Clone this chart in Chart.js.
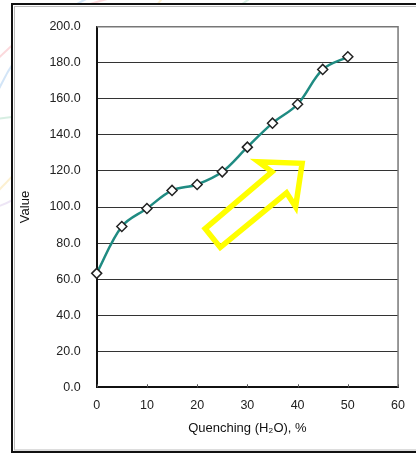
<!DOCTYPE html>
<html>
<head>
<meta charset="utf-8">
<script src="https://cdn.jsdelivr.net/npm/chart.js@4/dist/chart.umd.min.js"></script>
<style>
  html, body { margin: 0; padding: 0; background: #ffffff; }
  #wrap { width: 416px; height: 455px; }
</style>
</head>
<body>
<div id="wrap"><canvas id="chart" width="416" height="455"></canvas></div>
<script>
// Quenching water content (%) and measured value
const quenching = [0, 5, 10, 15, 20, 25, 30, 35, 40, 45, 50];
const values = [63.2, 89.2, 99.2, 109.2, 112.5, 119.5, 133.2, 146.5, 157.0, 176.3, 183.3];

// Axis ranges and tick steps
const xTicks = [0, 10, 20, 30, 40, 50, 60];
const yTicks = [0, 20, 40, 60, 80, 100, 120, 140, 160, 180, 200];

// Outline of the trend arrow, in data units (x: %, y: value)
const arrowX = [21.6, 34.9, 32.2, 40.9, 39.6, 37.8, 24.6];
const arrowY = [88.0, 119.5, 125.1, 124.2, 100.1, 107.9, 77.6];

const TICK_FONT = { family: "'Liberation Sans', Arial, sans-serif", size: 12.5 };
const TITLE_FONT = { family: "'Liberation Sans', Arial, sans-serif", size: 13, weight: 'normal' };

// Faint decorative arcs behind the framed panel, then the white panel itself
const panelPlugin = {
  id: 'panel',
  beforeDraw(chart) {
    const ctx = chart.ctx;
    ctx.save();
    ctx.fillStyle = '#ffffff';
    ctx.fillRect(0, 0, chart.width, chart.height);
    ctx.lineWidth = 2;
    const arcs = [
      ['rgba(240,120,130,0.28)', [-5, 62, 40, 12, 125, -5]],
      ['rgba(110,170,230,0.3)', [-5, 98, 25, 25, 95, -5]],
      ['rgba(120,200,160,0.3)', [-5, 119, 90, 112, 255, -5]],
      ['rgba(245,200,90,0.28)', [-5, 194, 40, 150, 165, -5]],
      ['rgba(190,160,220,0.28)', [-5, 207, 20, 202, 60, 160]]
    ];
    for (const [c, p] of arcs) {
      ctx.strokeStyle = c;
      ctx.beginPath();
      ctx.moveTo(p[0], p[1]);
      ctx.quadraticCurveTo(p[2], p[3], p[4], p[5]);
      ctx.stroke();
    }
    ctx.fillStyle = '#ffffff';
    ctx.fillRect(12, 4, chart.width, 448);
    ctx.strokeStyle = 'rgba(120,120,120,0.5)';
    ctx.lineWidth = 1;
    ctx.strokeRect(14.5, 6.5, chart.width, 443.5);
    ctx.strokeStyle = '#111111';
    ctx.lineWidth = 2;
    ctx.strokeRect(12, 4, chart.width + 10, 448);
    ctx.restore();
  },
  beforeDatasetsDraw(chart) {
    // Plot frame and short inward tick marks on the x axis
    const { ctx, chartArea: a, scales } = chart;
    ctx.save();
    ctx.strokeStyle = '#777777';
    ctx.lineWidth = 1.5;
    ctx.beginPath();
    ctx.moveTo(a.left, a.top);
    ctx.lineTo(a.right, a.top);
    ctx.lineTo(a.right, a.bottom);
    ctx.stroke();
    ctx.strokeStyle = '#555555';
    ctx.lineWidth = 1;
    for (const t of xTicks) {
      const px = Math.round(scales.x.getPixelForValue(t)) + 0.5;
      ctx.beginPath();
      ctx.moveTo(px, a.bottom);
      ctx.lineTo(px, a.bottom - 3);
      ctx.stroke();
    }
    ctx.restore();
  },
  afterDatasetsDraw(chart) {
    // Hollow yellow trend arrow
    const { ctx, scales } = chart;
    ctx.save();
    ctx.strokeStyle = '#ffff00';
    ctx.lineWidth = 5.5;
    ctx.lineJoin = 'miter';
    ctx.beginPath();
    arrowX.forEach((xv, i) => {
      const px = scales.x.getPixelForValue(xv);
      const py = scales.y.getPixelForValue(arrowY[i]);
      if (i === 0) ctx.moveTo(px, py); else ctx.lineTo(px, py);
    });
    ctx.closePath();
    ctx.stroke();
    ctx.restore();
  }
};

new Chart(document.getElementById('chart'), {
  type: 'line',
  data: {
    datasets: [{
      data: quenching.map((q, i) => ({ x: q, y: values[i] })),
      borderColor: '#1f8b82',
      borderWidth: 2.5,
      tension: 0.35,
      clip: false,
      pointStyle: 'rectRot',
      pointRadius: 5,
      pointHoverRadius: 5,
      pointBackgroundColor: '#ffffff',
      pointBorderColor: '#222222',
      pointBorderWidth: 1.5,
      fill: false
    }]
  },
  options: {
    responsive: false,
    animation: false,
    events: [],
    layout: { padding: { left: 0, right: 10, top: 26.7, bottom: 0 } },
    plugins: {
      legend: { display: false },
      tooltip: { enabled: false }
    },
    scales: {
      x: {
        type: 'linear',
        min: 0,
        max: 60,
        afterFit(s) { s.height = 67.7; },
        afterBuildTicks(s) { s.ticks = xTicks.map(v => ({ value: v })); },
        ticks: { color: '#222222', font: TICK_FONT, padding: 11, maxRotation: 0 },
        grid: { drawOnChartArea: false, drawTicks: false },
        border: { color: '#111111', width: 2 },
        title: {
          display: true,
          text: 'Quenching (H₂O), %',
          color: '#111111',
          font: TITLE_FONT,
          padding: { top: 0, bottom: 18.4 }
        }
      },
      y: {
        min: 0,
        max: 200,
        afterFit(s) { s.width = 96.7; },
        afterBuildTicks(s) { s.ticks = yTicks.map(v => ({ value: v })); },
        ticks: {
          color: '#222222',
          font: TICK_FONT,
          padding: 16,
          callback: v => Number(v).toFixed(1)
        },
        grid: { color: '#333333', lineWidth: 1, drawTicks: false },
        border: { color: '#111111', width: 2 },
        title: {
          display: true,
          text: 'Value',
          color: '#111111',
          font: TITLE_FONT,
          padding: { top: 17.4, bottom: 0 }
        }
      }
    }
  },
  plugins: [panelPlugin]
});
</script>
</body>
</html>
